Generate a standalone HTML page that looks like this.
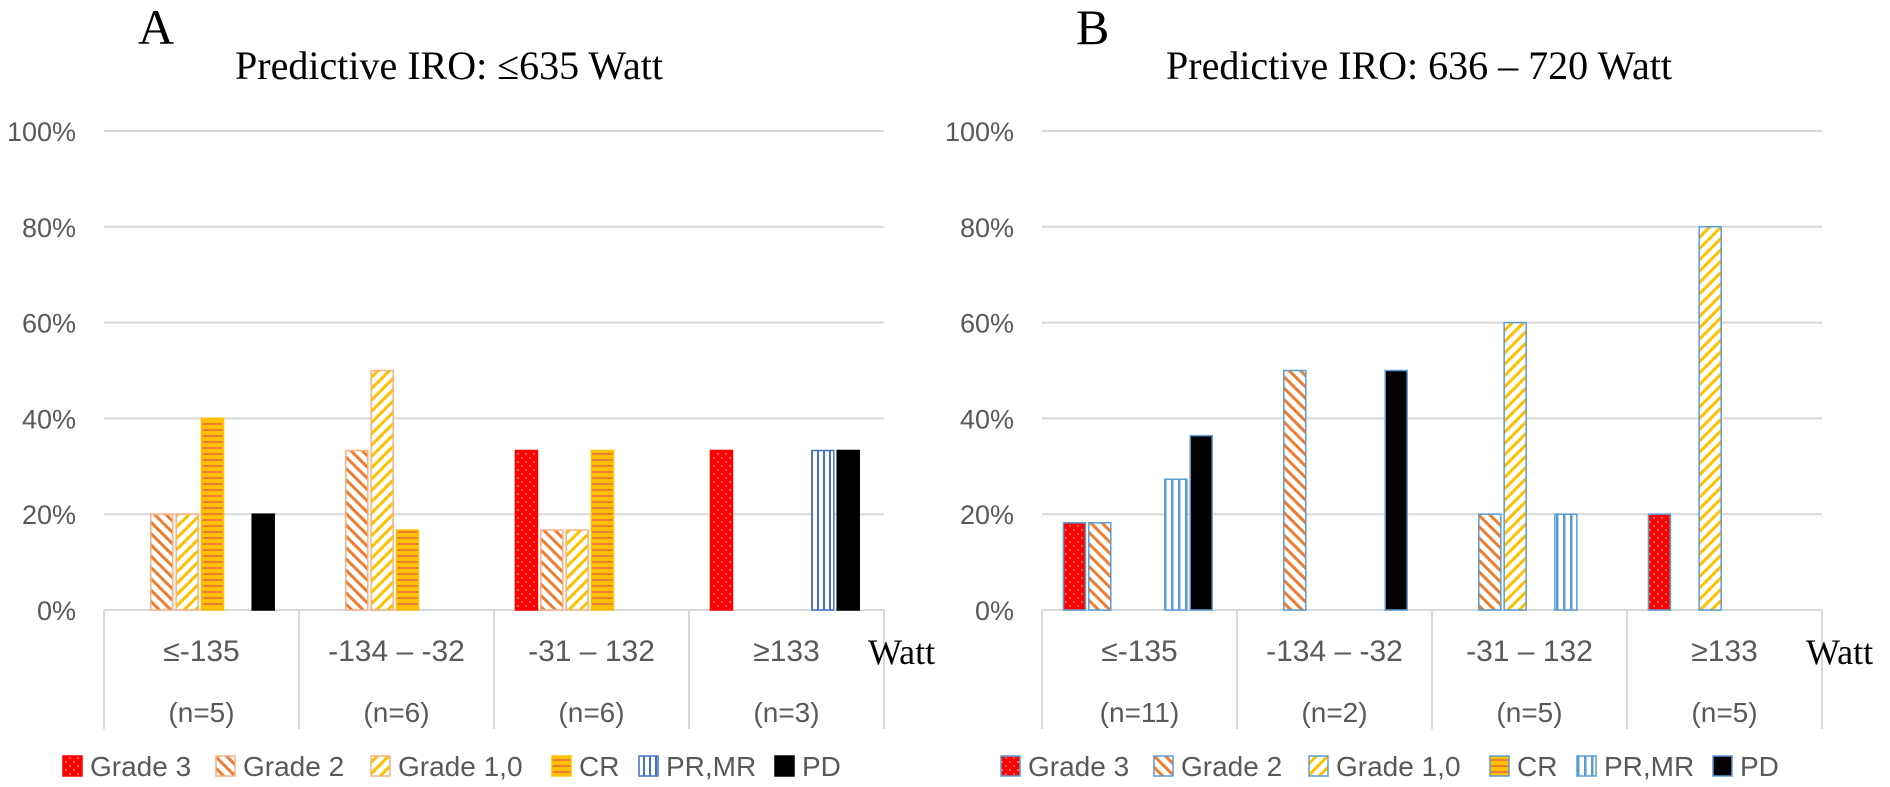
<!DOCTYPE html>
<html><head><meta charset="utf-8"><style>
body{margin:0;background:#fff;}
svg{display:block;}
text{font-family:"Liberation Sans",sans-serif;}
.serif{font-family:"Liberation Serif",serif;}
</style></head><body>
<svg id="chart" width="1890" height="787" viewBox="0 0 1890 787" xmlns="http://www.w3.org/2000/svg">
<defs>
 <pattern id="pDotsA" width="8" height="8" patternUnits="userSpaceOnUse"><rect width="8" height="8" fill="#ff0000"/><circle cx="2" cy="2" r="0.9" fill="#ffb0b0"/><circle cx="6" cy="6" r="0.9" fill="#ffb0b0"/></pattern>
 <pattern id="pG2" width="8" height="8" patternUnits="userSpaceOnUse" patternTransform="rotate(-45)"><rect width="8" height="8" fill="#fff"/><rect width="3" height="8" fill="#ed7d31"/></pattern>
 <pattern id="pG1" width="8" height="8" patternUnits="userSpaceOnUse" patternTransform="rotate(45)"><rect width="8" height="8" fill="#fff"/><rect width="3" height="8" fill="#ffc000"/></pattern>
 <pattern id="pCR" width="6" height="6" patternUnits="userSpaceOnUse"><rect width="6" height="6" fill="#ffc000"/><rect y="3" width="6" height="2" fill="#ed7d31"/></pattern>
 <pattern id="pPR" width="6" height="6" patternUnits="userSpaceOnUse"><rect width="6" height="6" fill="#fff"/><rect x="1" width="2" height="6" fill="#4472c4"/></pattern>
 <pattern id="pPRB" width="7" height="7" patternUnits="userSpaceOnUse"><rect width="7" height="7" fill="#fff"/><rect x="2" width="2.5" height="7" fill="#5b9bd5"/></pattern>
</defs>
</svg>
<script>
const categories = ["≤-135", "-134 – -32", "-31 – 132", "≥133"];
const seriesNames = ["Grade 3", "Grade 2", "Grade 1,0", "CR", "PR,MR", "PD"];
const nLabelsA = ["(n=5)", "(n=6)", "(n=6)", "(n=3)"];
const nLabelsB = ["(n=11)", "(n=2)", "(n=5)", "(n=5)"];
const yTicks = [0, 20, 40, 60, 80, 100];
const grade3A = [0, 0, 33.3, 33.3];
const grade2A = [20, 33.3, 16.7, 0];
const grade1A = [20, 50, 16.7, 0];
const crA = [40, 16.7, 33.3, 0];
const prA = [0, 0, 0, 33.3];
const pdA = [20, 0, 0, 33.3];
const grade3B = [18.2, 0, 0, 20];
const grade2B = [18.2, 50, 20, 0];
const grade1B = [0, 0, 60, 80];
const crB = [0, 0, 0, 0];
const prB = [27.3, 0, 20, 0];
const pdB = [36.4, 50, 0, 0];

const svg = document.getElementById('chart');
const NS = 'http://www.w3.org/2000/svg';
function mk(tag, attrs, parent, txt){
  const e = document.createElementNS(NS, tag);
  for (const k in attrs) e.setAttribute(k, attrs[k]);
  if (txt !== undefined) e.textContent = txt;
  (parent || svg).appendChild(e);
  return e;
}
const fillsA = ["url(#pDotsA)", "url(#pG2)", "url(#pG1)", "url(#pCR)", "url(#pPR)", "#000"];
const strokesA = ["#ff0000", "#f4b183", "#f4b183", "#ffc000", "#4472c4", "#000"];
const fillsB = ["url(#pDotsA)", "url(#pG2)", "url(#pG1)", "url(#pCR)", "url(#pPRB)", "#000"];
const strokesB = ["#5b9bd5", "#5b9bd5", "#5b9bd5", "#5b9bd5", "#5b9bd5", "#5b9bd5"];

function panel(ox, letter, title, titleX, seriesVals, nLabels, fills, strokes, key){
  const g = mk('g', {});
  
  
  const x0 = ox + 104, x1 = ox + 884, y0 = 610, y100 = 131;
  const catW = (x1 - x0) / categories.length;
  const yScale = v => y0 - (v / 100) * (y0 - y100);
  const xCat = i => x0 + i * catW;
  const stride = catW * 0.13, bw = 22, off = (catW - 6 * stride) / 2;

  const pl = mk('text', {x: ox + 138, y: 44, 'font-size': 50, fill: '#000', class: 'serif'}, g, letter);
  
  
  const tt = mk('text', {x: titleX, y: 79, 'font-size': 40, fill: '#000', 'text-anchor': 'middle', class: 'serif'}, g, title);
  
  

  yTicks.forEach(t => {
    const y = yScale(t);
    const gl = mk('line', {x1: x0, x2: x1, y1: y, y2: y, stroke: '#d9d9d9', 'stroke-width': 2}, g);
    
    
    const tl = mk('text', {x: ox + 76, y: y + 10, 'font-size': 27, fill: '#595959', 'text-anchor': 'end'}, g, t + '%');
    
    
  });
  for (let i = 0; i <= categories.length; i++) {
    const l = mk('line', {x1: xCat(i), x2: xCat(i), y1: y0, y2: 729, stroke: '#d9d9d9', 'stroke-width': 2}, g);
    
    
  }
  categories.forEach((c, i) => {
    const cx = xCat(i) + catW / 2;
    const cl = mk('text', {x: cx, y: 661, 'font-size': 30, fill: '#595959', 'text-anchor': 'middle'}, g, c);
    
    
    const nl = mk('text', {x: cx, y: 722, 'font-size': 28, fill: '#595959', 'text-anchor': 'middle'}, g, nLabels[i]);
    
    
  });
  const wl = mk('text', {x: ox + 868, y: 664, 'font-size': 36, fill: '#000', class: 'serif'}, g, 'Watt');
  
  

  seriesVals.forEach((vals, s) => {
    vals.forEach((v, i) => {
      if (v <= 0) return;
      const x = xCat(i) + off + s * stride;
      const y = yScale(v);
      const r = mk('rect', {x: x, y: y, width: bw, height: y0 - y, fill: fills[s], stroke: strokes[s], 'stroke-width': 1.5}, g);
      
      
    });
  });

  const legX = [63, 216, 371, 552, 639, 775];
  seriesNames.forEach((n, s) => {
    const lg = mk('g', {}, g);
    
    
    mk('rect', {x: ox + legX[s], y: 756, width: 19, height: 20, fill: fills[s], stroke: strokes[s], 'stroke-width': 1.5}, lg);
    mk('text', {x: ox + legX[s] + 27, y: 776, 'font-size': 28, fill: '#595959'}, lg, n);
  });
}
panel(0, 'A', 'Predictive IRO: ≤635 Watt', 449, [grade3A, grade2A, grade1A, crA, prA, pdA], nLabelsA, fillsA, strokesA, 'a');
panel(938, 'B', 'Predictive IRO: 636 – 720 Watt', 1419, [grade3B, grade2B, grade1B, crB, prB, pdB], nLabelsB, fillsB, strokesB, 'b');
</script>
</body></html>
